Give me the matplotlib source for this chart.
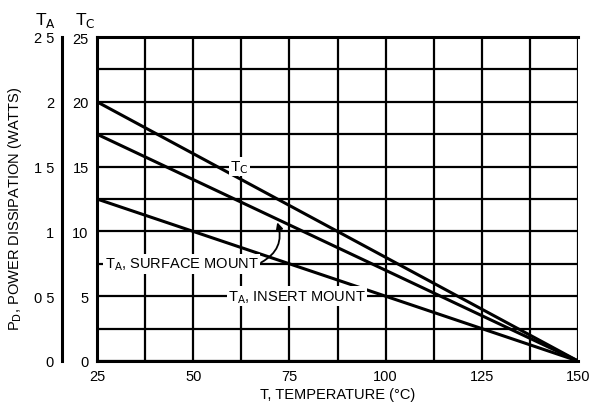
import numpy as np
import matplotlib
matplotlib.use("Agg")
import matplotlib.pyplot as plt

plt.rcParams['font.family'] = ['Liberation Sans Narrow', 'Liberation Sans', 'DejaVu Sans']

# data (TC scale, watts)
temp = [25, 150]
tc_case = [20, 0]
ta_surface = [17.5, 0]
ta_insert = [12.5, 0]

x_ticks = [25, 50, 75, 100, 125, 150]
tc_ticks = [0, 5, 10, 15, 20, 25]
ta_ticks = [0, 0.5, 1, 1.5, 2, 2.5]
ta_labels = ["0", "0 5", "1", "1 5", "2", "2 5"]

fig = plt.figure(figsize=(5.92, 4.06), dpi=100)
ax = fig.add_axes([97 / 592, 1 - 362 / 406, 481 / 592, 324 / 406])

ax.set_xlim(25, 150)
ax.set_ylim(0, 25)
ax.set_xticks(x_ticks)
ax.set_xticks(np.arange(37.5, 150, 25), minor=True)
ax.set_yticks(tc_ticks)
ax.set_yticks(np.arange(2.5, 25, 5), minor=True)
ax.grid(which='both', color='black', linewidth=1.6)
ax.tick_params(which='both', length=0, labelsize=10.5, pad=6)
for sp in ax.spines.values():
    sp.set_linewidth(2.2)
ax.spines['right'].set_visible(False)

ax.plot(temp, tc_case, color='black', lw=2.2)
ax.plot(temp, ta_surface, color='black', lw=2.2)
ax.plot(temp, ta_insert, color='black', lw=2.2)

# second (TA) scale on the far left
ax2 = ax.twinx()
ax2.set_ylim(0, 2.5)
ax2.set_yticks(ta_ticks)
ax2.set_yticklabels(ta_labels)
ax2.spines['left'].set_position(('axes', -0.072))
ax2.spines['left'].set_linewidth(2.2)
ax2.spines['right'].set_visible(False)
ax2.spines['top'].set_visible(False)
ax2.spines['bottom'].set_visible(False)
ax2.yaxis.set_ticks_position('left')
ax2.yaxis.set_label_position('left')
ax2.tick_params(length=0, labelsize=10.5, pad=6)

fig.text(45 / 592, 1 - 20 / 406, r"T$_\mathrm{A}$", fontsize=12.5, ha='center', va='center')
fig.text(85 / 592, 1 - 20 / 406, r"T$_\mathrm{C}$", fontsize=12.5, ha='center', va='center')

fig.text(15 / 592, 0.485, r"P$_\mathrm{D}$, POWER DISSIPATION (WATTS)", rotation=90,
         fontsize=10.5, ha='center', va='center')
ax.set_xlabel("T, TEMPERATURE (°C)", fontsize=10.5, labelpad=3)

box = dict(facecolor='white', edgecolor='none', pad=1)
ax.text(62, 15, r"T$_\mathrm{C}$", fontsize=11, ha='center', va='center', bbox=box)
ax.text(47, 7.5, r"T$_\mathrm{A}$, SURFACE MOUNT", fontsize=10.5, ha='center', va='center', bbox=box)
ax.text(77, 5, r"T$_\mathrm{A}$, INSERT MOUNT", fontsize=10.5, ha='center', va='center', bbox=box)
ax.annotate("", xy=(71.6, 10.9), xytext=(67, 7.5),
            arrowprops=dict(arrowstyle='-|>', color='black', lw=1.3,
                            connectionstyle="arc3,rad=0.45"))

fig.savefig("out.png", dpi=100)
